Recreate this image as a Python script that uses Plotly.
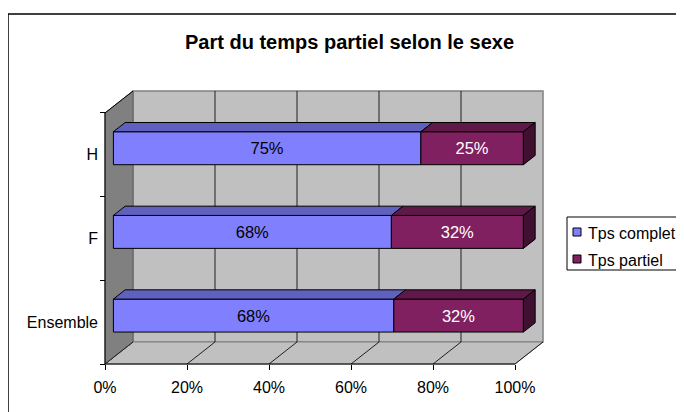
import plotly.graph_objects as go

# ---------------- data ----------------
categories = ["Ensemble", "F", "H"]
tps_complet = [68.4, 67.8, 75.0]
tps_partiel = [31.6, 32.2, 25.0]
x_tick_values = [0, 20, 40, 60, 80, 100]
x_tick_labels = ["0%", "20%", "40%", "60%", "80%", "100%"]
series_names = ["Tps complet", "Tps partiel"]

# ---------------- styling / geometry ----------------
FONT = "Liberation Sans, Arial, sans-serif"
C_FRONT = ["#8080FF", "#802060"]
C_TOP = ["#6060BF", "#601848"]
C_SIDE = ["#40409F", "#401030"]
DX, DY = 6.83, 0.263          # depth vector of the 3D box (data units)
F0, F1 = 0.30, 0.72           # bar depth (fraction of box depth)
BW = 0.394                    # bar thickness (category units)

OFF = 8                       # page body margin
W, H = 684 - OFF, 412 - OFF
L, R, T, B = 103 - OFF, 545 - OFF, 90 - OFF, 366 - OFF
XR = [-2 / 4.1, -2 / 4.1 + (R - L) / 4.1]
YR = [-0.5 - 2 / 83.67, -0.5 - 2 / 83.67 + (B - T) / 83.67]


def px(xp):  # page pixel -> paper fraction
    return (xp - OFF - L) / (R - L)


def py(yp):
    return (B - (yp - OFF)) / (B - T)


n = len(categories)
ypos = [i + F0 * DY for i in range(n)]
fig = go.Figure()

bases = [[F0 * DX] * n, [F0 * DX + c for c in tps_complet]]
vals = [tps_complet, tps_partiel]
txtcol = ["black", "white"]
for s in range(2):
    fig.add_trace(go.Bar(
        y=ypos, x=vals[s], base=bases[s], orientation="h", width=BW,
        name=series_names[s], showlegend=False,
        marker=dict(color=C_FRONT[s], line=dict(color="black", width=1)),
        text=[f"{v:.0f}%" for v in vals[s]], textposition="inside",
        insidetextanchor="middle", constraintext="none",
        textfont=dict(family=FONT, size=16.5, color=txtcol[s]),
        hoverinfo="skip"))

dd = F1 - F0
for i in range(n):
    yt = ypos[i] + BW / 2
    yb = ypos[i] - BW / 2
    for s in range(2):
        x0 = bases[s][i]
        x1 = x0 + vals[s][i]
        fig.add_trace(go.Scatter(
            x=[x0, x1, x1 + dd * DX, x0 + dd * DX, x0],
            y=[yt, yt, yt + dd * DY, yt + dd * DY, yt],
            mode="lines", fill="toself", fillcolor=C_TOP[s],
            line=dict(color="black", width=1), showlegend=False, hoverinfo="skip"))
    xe = bases[1][i] + vals[1][i]
    fig.add_trace(go.Scatter(
        x=[xe, xe, xe + dd * DX, xe + dd * DX, xe],
        y=[yb, yt, yt + dd * DY, yb + dd * DY, yb],
        mode="lines", fill="toself", fillcolor=C_SIDE[1],
        line=dict(color="black", width=1), showlegend=False, hoverinfo="skip"))

shapes = []
y_lo, y_hi = -0.5, n - 0.5
# back wall
shapes.append(dict(type="rect", xref="x", yref="y", x0=DX, x1=100 + DX, y0=y_lo + DY, y1=y_hi + DY,
                   fillcolor="#C0C0C0", line=dict(color="#808080", width=1.5), layer="below"))
# floor
shapes.append(dict(type="path", xref="x", yref="y",
                   path=f"M0,{y_lo} L100,{y_lo} L{100 + DX},{y_lo + DY} L{DX},{y_lo + DY} Z",
                   fillcolor="#C0C0C0", line=dict(color="#808080", width=1), layer="below"))
# left wall
shapes.append(dict(type="path", xref="x", yref="y",
                   path=f"M0,{y_lo} L0,{y_hi} L{DX},{y_hi + DY} L{DX},{y_lo + DY} Z",
                   fillcolor="#808080", line=dict(color="#606060", width=1), layer="below"))
shapes.append(dict(type="line", xref="x", yref="y", x0=0, x1=DX, y0=y_hi, y1=y_hi + DY,
                   line=dict(color="black", width=1), layer="below"))
# grid lines: back wall and floor
for v in x_tick_values:
    if 0 < v < 100:
        shapes.append(dict(type="line", xref="x", yref="y", x0=v + DX, x1=v + DX,
                           y0=y_lo + DY, y1=y_hi + DY, line=dict(color="#202020", width=1), layer="below"))
    shapes.append(dict(type="line", xref="x", yref="y", x0=v, x1=v + DX,
                       y0=y_lo, y1=y_lo + DY, line=dict(color="#202020", width=1), layer="below"))
# axis lines
shapes.append(dict(type="line", xref="x", yref="y", x0=0, x1=100, y0=y_lo, y1=y_lo,
                   line=dict(color="black", width=1), layer="below"))
shapes.append(dict(type="line", xref="x", yref="y", x0=0, x1=0, y0=y_lo, y1=y_hi,
                   line=dict(color="black", width=1), layer="below"))
# chart area border
shapes.append(dict(type="rect", xref="paper", yref="paper", x0=px(8), x1=px(720), y0=py(440), y1=py(14),
                   line=dict(color="black", width=1.5), fillcolor="rgba(0,0,0,0)", layer="above"))
# legend box and swatches
shapes.append(dict(type="rect", xref="paper", yref="paper", x0=px(567), x1=px(682), y0=py(270), y1=py(217),
                   line=dict(color="black", width=1), fillcolor="white", layer="above"))
leg_y = [232, 259]
annotations = []
for s in range(2):
    shapes.append(dict(type="rect", xref="paper", yref="paper", x0=px(573), x1=px(581),
                       y0=py(leg_y[s] + 4), y1=py(leg_y[s] - 4),
                       line=dict(color="black", width=1), fillcolor=C_FRONT[s], layer="above"))
    annotations.append(dict(xref="paper", yref="paper", x=px(586), y=py(leg_y[s] + 1), text=series_names[s],
                            showarrow=False, xanchor="left", yanchor="middle",
                            font=dict(family=FONT, size=16, color="black")))

annotations.append(dict(xref="paper", yref="paper", x=px(349), y=py(42),
                        text="<b>Part du temps partiel selon le sexe</b>", showarrow=False,
                        xanchor="center", yanchor="middle",
                        font=dict(family=FONT, size=20, color="black")))

fig.update_layout(
    width=W, height=H, margin=dict(l=L, r=W - R, t=T, b=H - B, pad=0),
    paper_bgcolor="white", plot_bgcolor="white", barmode="overlay",
    showlegend=False, shapes=shapes, annotations=annotations,
    font=dict(family=FONT, size=16, color="black"),
    xaxis=dict(range=XR, tickmode="array", tickvals=x_tick_values, ticktext=x_tick_labels,
               ticks="outside", ticklen=5, tickcolor="black", showgrid=False, zeroline=False,
               showline=False, anchor="free", position=py(364), fixedrange=True,
               ticklabelstandoff=4,
               tickfont=dict(family=FONT, size=16, color="black")),
    yaxis=dict(range=YR, tickmode="array", tickvals=list(range(n)), ticktext=categories,
               ticks="", showgrid=False, zeroline=False, showline=False,
               anchor="free", position=px(105), ticklabelstandoff=7, fixedrange=True,
               tickfont=dict(family=FONT, size=16, color="black"),
               minor=dict(tickmode="array", tickvals=[k - 0.5 for k in range(n + 1)],
                          ticks="outside", ticklen=5, tickcolor="black", showgrid=False)),
)

fig.write_html("out.html")
